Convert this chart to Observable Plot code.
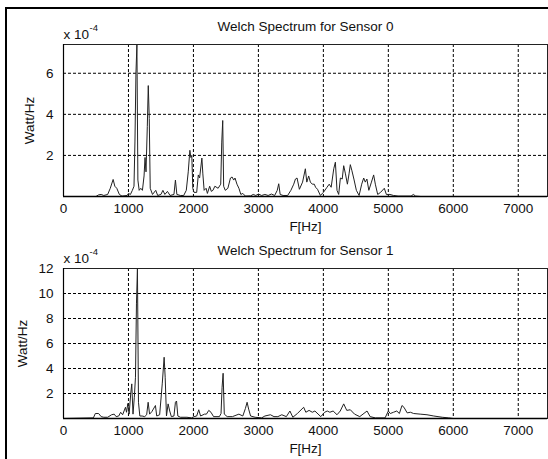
<!DOCTYPE html>
<html>
<head>
<meta charset="utf-8">
<script src="https://cdn.jsdelivr.net/npm/d3@7"></script>
<script src="https://cdn.jsdelivr.net/npm/@observablehq/plot@0.6"></script>
<style>
  html, body { margin: 0; padding: 0; background: #fff; }
  #wrap { position: relative; width: 548px; height: 459px; overflow: hidden; background: #fff; }
  #frame { position: absolute; left: 5px; top: 7px; width: 600px; height: 600px;
           border-left: 2px solid #000; border-top: 2px solid #000; }
  .panel { position: absolute; left: 0; }
</style>
</head>
<body>
<div id="wrap"><div id="frame"></div><div class="panel" id="p0" style="top:0px"></div><div class="panel" id="p1" style="top:224px"></div></div>
<script>
// Sensor 0 spectrum (values in units of 1e-4 Watt/Hz)
const freq0 = [0,500,540,580,620,680,720,764,790,820,860,900,980,1000,1030,1060,1085,1100,1115,1130,1145,1165,1190,1215,1240,1255,1270,1290,1305,1320,1335,1370,1420,1450,1500,1530,1560,1600,1640,1700,1723,1745,1800,1850,1890,1920,1945,1960,1975,1990,2010,2050,2075,2095,2130,2145,2165,2195,2215,2250,2275,2300,2330,2380,2420,2436,2451,2465,2490,2530,2570,2595,2620,2640,2670,2700,2730,2760,2800,2880,2920,2960,3000,3050,3100,3150,3200,3250,3290,3313,3335,3380,3450,3500,3544,3570,3595,3631,3680,3723,3745,3774,3800,3830,3860,3880,3910,3954,4000,4056,4090,4120,4160,4185,4210,4236,4262,4290,4313,4340,4370,4395,4415,4440,4470,4508,4550,4590,4621,4645,4670,4700,4740,4774,4800,4836,4880,4938,4970,5025,5080,5150,5350,5385,5420,5500,7450];
const power0 = [0,0,0.08,0.1,0.05,0.1,0.4,0.83,0.5,0.4,0.1,0.02,0.05,0.15,0.1,0.3,0.5,2.7,6.0,7.4,0.8,0.3,0.4,0.3,1.0,1.9,1.2,3.4,5.4,3.8,0.4,0.1,0.3,0.05,0.1,0.3,0.1,0.25,0.05,0.1,0.8,0.1,0.05,0.05,0.3,1.2,2.25,1.9,2.0,0.4,0.2,0.2,1.05,0.9,1.87,1.1,0.3,0.4,0.15,0.5,0.25,0.3,0.5,0.4,0.6,2.65,3.7,0.5,0.3,0.4,0.9,0.95,0.8,0.9,0.6,0.4,0.1,0.15,0.02,0.03,0.1,0.05,0.12,0.05,0.1,0.05,0.12,0.05,0.3,0.62,0.1,0.05,0.05,0.3,0.6,0.85,0.9,0.35,0.7,1.35,0.7,1.0,0.7,0.6,0.6,0.45,0.35,0.05,0.2,0.45,0.6,0.45,1.35,1.67,0.3,0.1,0.9,0.85,1.5,1.1,0.6,1.1,1.55,1.25,0.85,0.3,0.05,0.6,0.9,0.7,0.85,0.3,0.7,1.05,0.6,0.1,0.2,0.4,0.1,0.1,0.05,0.02,0.02,0.1,0.02,0,0];

// Sensor 1 spectrum (values in units of 1e-4 Watt/Hz)
const freq1 = [0,460,490,540,580,620,680,740,780,810,850,880,910,954,970,990,1010,1035,1051,1070,1090,1108,1123,1138,1154,1175,1210,1250,1280,1303,1325,1360,1415,1435,1480,1520,1549,1565,1585,1610,1635,1660,1700,1723,1740,1760,1800,1900,1970,2010,2050,2082,2110,2170,2200,2236,2270,2310,2400,2425,2441,2457,2475,2520,2600,2700,2760,2800,2826,2850,2880,2950,3050,3100,3185,3240,3300,3360,3430,3485,3530,3600,3697,3730,3780,3830,3870,3960,4020,4060,4100,4150,4210,4260,4313,4360,4415,4480,4560,4672,4720,4800,4950,5000,5030,5080,5130,5170,5210,5240,5290,5340,5390,5490,5595,5700,5830,5930,6000,7450];
const power1 = [0,0.05,0.4,0.4,0.15,0.1,0.1,0.3,0.35,0.15,0.2,0.5,0.3,0.9,0.5,1.2,0.35,2.0,2.77,0.35,1.7,3.3,9.17,12,1.3,0.2,0.2,0.15,0.3,1.3,0.35,0.55,1.04,0.2,0.3,2.77,4.9,3.3,0.2,1.17,0.6,0.15,0.2,1.3,1.4,0.2,0.1,0.1,0.05,0.15,0.2,0.7,0.2,0.35,0.35,0.65,0.5,0.15,0.15,0.4,2.5,3.62,0.35,0.15,0.15,0.35,0.2,0.8,1.3,0.75,0.2,0.1,0.05,0.2,0.3,0.15,0.15,0.3,0.15,0.6,0.1,0.4,0.9,0.5,0.65,0.5,0.6,0.15,0.5,0.6,0.5,0.6,0.3,0.6,1.17,0.65,0.7,0.35,0.15,0.6,0.15,0.05,0.05,0.6,0.4,0.5,0.6,0.4,1.04,0.9,0.45,0.5,0.4,0.35,0.3,0.2,0.1,0.05,0,0];

const titles = ["Welch Spectrum for Sensor 0", "Welch Spectrum for Sensor 1"];
const xTicks = [0, 1000, 2000, 3000, 4000, 5000, 6000, 7000];
const xGrid = [1000, 2000, 3000, 4000, 5000, 6000, 7000];
const yTicks0 = [2, 4, 6];
const yTicks1 = [2, 4, 6, 8, 10, 12];
const yMax = [7.4, 12];
const xMax = 7450;
const xLabel = "F[Hz]";
const yLabel = "Watt/Hz";
const scaleBase = "x 10";
const scaleExp = "-4";

const FONT = "'Liberation Sans', Arial, sans-serif";
const FS = 13.5;

function panel(freq, power, title, yTicks, ymax, opts) {
  const data = freq.map((f, i) => ({f, v: power[i]}));
  const ink = "#111";
  const T = (s, o) => Plot.text([s], {text: d => d, textAnchor: "middle", lineAnchor: "middle", fontSize: FS, ...o});
  return Plot.plot({
    width: 548,
    height: opts.height,
    marginLeft: 63,
    marginRight: 1,
    marginTop: 44,
    marginBottom: opts.marginBottom,
    style: {background: "transparent", fontFamily: FONT, fontSize: FS + "px", color: ink, overflow: "visible"},
    x: {domain: [0, xMax]},
    y: {domain: [0, ymax]},
    marks: [
      Plot.ruleX(xGrid, {stroke: "#000", strokeWidth: 1, strokeDasharray: "3,2"}),
      Plot.ruleY(yTicks.filter(t => t < ymax), {stroke: "#000", strokeWidth: 1, strokeDasharray: "3,2"}),
      Plot.line(data, {x: "f", y: "v", stroke: "#222", strokeWidth: 1}),
      Plot.frame({stroke: "#222", strokeWidth: 1}),
      Plot.ruleY([0], {stroke: "#000", strokeWidth: 1.6}),
      Plot.ruleX([0], {stroke: "#000", strokeWidth: 1.2}),
      Plot.axisX(xTicks, {tickSize: 0, tickPadding: 7, label: null, fontSize: FS, tickFormat: d => String(d)}),
      Plot.axisY(yTicks, {tickSize: 0, tickPadding: 10, label: null, fontSize: FS, tickFormat: d => String(d)}),
      T(xLabel, {frameAnchor: "bottom", dy: 30}),
      T(yLabel, {frameAnchor: "left", rotate: -90, dx: opts.ylabelDx}),
      T(title, {frameAnchor: "top", dy: -18}),
      T(scaleBase, {frameAnchor: "top-left", textAnchor: "start", dy: -10}),
      T(scaleExp, {frameAnchor: "top-left", textAnchor: "start", dy: -17, dx: 26, fontSize: 9.5})
    ]
  });
}

document.getElementById("p0").appendChild(panel(freq0, power0, titles[0], yTicks0, yMax[0], {height: 240, marginBottom: 44, ylabelDx: -34}));
document.getElementById("p1").appendChild(panel(freq1, power1, titles[1], yTicks1, yMax[1], {height: 235, marginBottom: 41, ylabelDx: -41}));
</script>
</body>
</html>
